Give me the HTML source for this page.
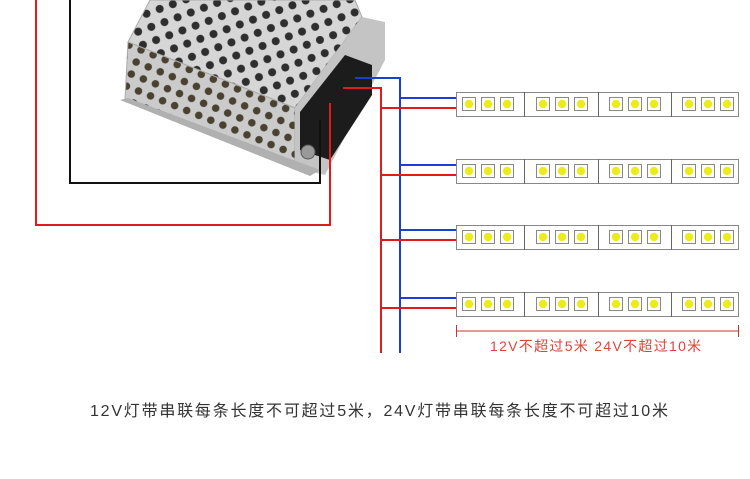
<!DOCTYPE html>
<html><head><meta charset="utf-8"><style>
html,body{margin:0;padding:0;background:#fff;}
body{width:750px;height:479px;overflow:hidden;position:relative;font-family:"Liberation Sans","Noto Sans CJK SC",sans-serif;}
</style></head><body>
<svg width="750" height="479" viewBox="0 0 750 479" style="position:absolute;left:0;top:0">
<defs>
<pattern id="holes" width="14" height="14" patternUnits="userSpaceOnUse" patternTransform="rotate(-20)">
<rect width="14" height="14" fill="#d6d6d6"/>
<circle cx="7" cy="7" r="4" fill="#2e2e2e"/>
</pattern>
<pattern id="holes2" width="13" height="13" patternUnits="userSpaceOnUse" patternTransform="rotate(22)">
<rect width="13" height="13" fill="#cbcbcb"/>
<circle cx="6.5" cy="6.5" r="3.8" fill="#4a4230"/>
</pattern>
<g id="strip">
<rect x="456.5" y="0.5" width="282" height="24" fill="#fff" stroke="#888"/>
<line x1="524.5" y1="0" x2="524.5" y2="25" stroke="#666"/>
<line x1="598.5" y1="0" x2="598.5" y2="25" stroke="#666"/>
<line x1="671.5" y1="0" x2="671.5" y2="25" stroke="#666"/>
<g id="led3">
<rect x="462.5" y="5.5" width="13" height="13" fill="#fff" stroke="#888"/><circle cx="469" cy="12" r="4.2" fill="#ecec1c"/>
<rect x="481.5" y="5.5" width="13" height="13" fill="#fff" stroke="#888"/><circle cx="488" cy="12" r="4.2" fill="#ecec1c"/>
<rect x="500.5" y="5.5" width="13" height="13" fill="#fff" stroke="#888"/><circle cx="507" cy="12" r="4.2" fill="#ecec1c"/>
</g>
<use href="#led3" x="74"/>
<use href="#led3" x="147"/>
<use href="#led3" x="220"/>
</g>
</defs>
<!-- power supply -->
<polygon points="150,0 355,0 362,17 295,108 128,42" fill="url(#holes)" stroke="#aaa"/>
<polygon points="128,42 295,108 295,168 125,100" fill="url(#holes2)" stroke="#aaa"/>
<polygon points="295,108 362,17 385,22 385,60 325,175 295,168" fill="#c4c4c4"/>
<polygon points="300,112 345,55 372,65 372,95 330,160 300,150" fill="#1c1c1c"/>
<circle cx="308" cy="152" r="7" fill="#999" stroke="#555"/>
<polygon points="120,100 310,176 320,170 128,98" fill="#b0b0b0"/>
<!-- wires -->
<polyline points="36,0 36,225 330,225 330,103" fill="none" stroke="#e01b1b" stroke-width="2"/>
<polyline points="70,0 70,183 320,183 320,120" fill="none" stroke="#111" stroke-width="2"/>
<polyline points="355,78 400,78 400,353" fill="none" stroke="#1a3fd6" stroke-width="2"/>
<polyline points="343,88 381,88 381,353" fill="none" stroke="#e01b1b" stroke-width="2"/>
<g stroke-width="2" fill="none">
<line x1="400" y1="98" x2="456" y2="98" stroke="#1a3fd6"/><line x1="381" y1="108" x2="456" y2="108" stroke="#e01b1b"/>
<line x1="400" y1="165" x2="456" y2="165" stroke="#1a3fd6"/><line x1="381" y1="175" x2="456" y2="175" stroke="#e01b1b"/>
<line x1="400" y1="230" x2="456" y2="230" stroke="#1a3fd6"/><line x1="381" y1="240" x2="456" y2="240" stroke="#e01b1b"/>
<line x1="400" y1="298" x2="456" y2="298" stroke="#1a3fd6"/><line x1="381" y1="308" x2="456" y2="308" stroke="#e01b1b"/>
</g>
<use href="#strip" y="92"/>
<use href="#strip" y="159"/>
<use href="#strip" y="225"/>
<use href="#strip" y="292"/>
<!-- dimension -->
<g stroke="#c0392b" stroke-width="1">
<line x1="456" y1="331" x2="739" y2="331"/>
<line x1="456.5" y1="325" x2="456.5" y2="337"/>
<line x1="738.5" y1="325" x2="738.5" y2="337"/>
</g>
<text x="490" y="351" font-size="14" fill="#d9453a" letter-spacing="1.3" font-family="Liberation Sans,Noto Sans CJK SC,sans-serif">12V不超过5米  24V不超过10米</text>
<text x="90" y="416" font-size="16" fill="#333" letter-spacing="2" font-family="Liberation Sans,Noto Sans CJK SC,sans-serif" textLength="580" lengthAdjust="spacing">12V灯带串联每条长度不可超过5米，24V灯带串联每条长度不可超过10米</text>
</svg>
</body></html>
